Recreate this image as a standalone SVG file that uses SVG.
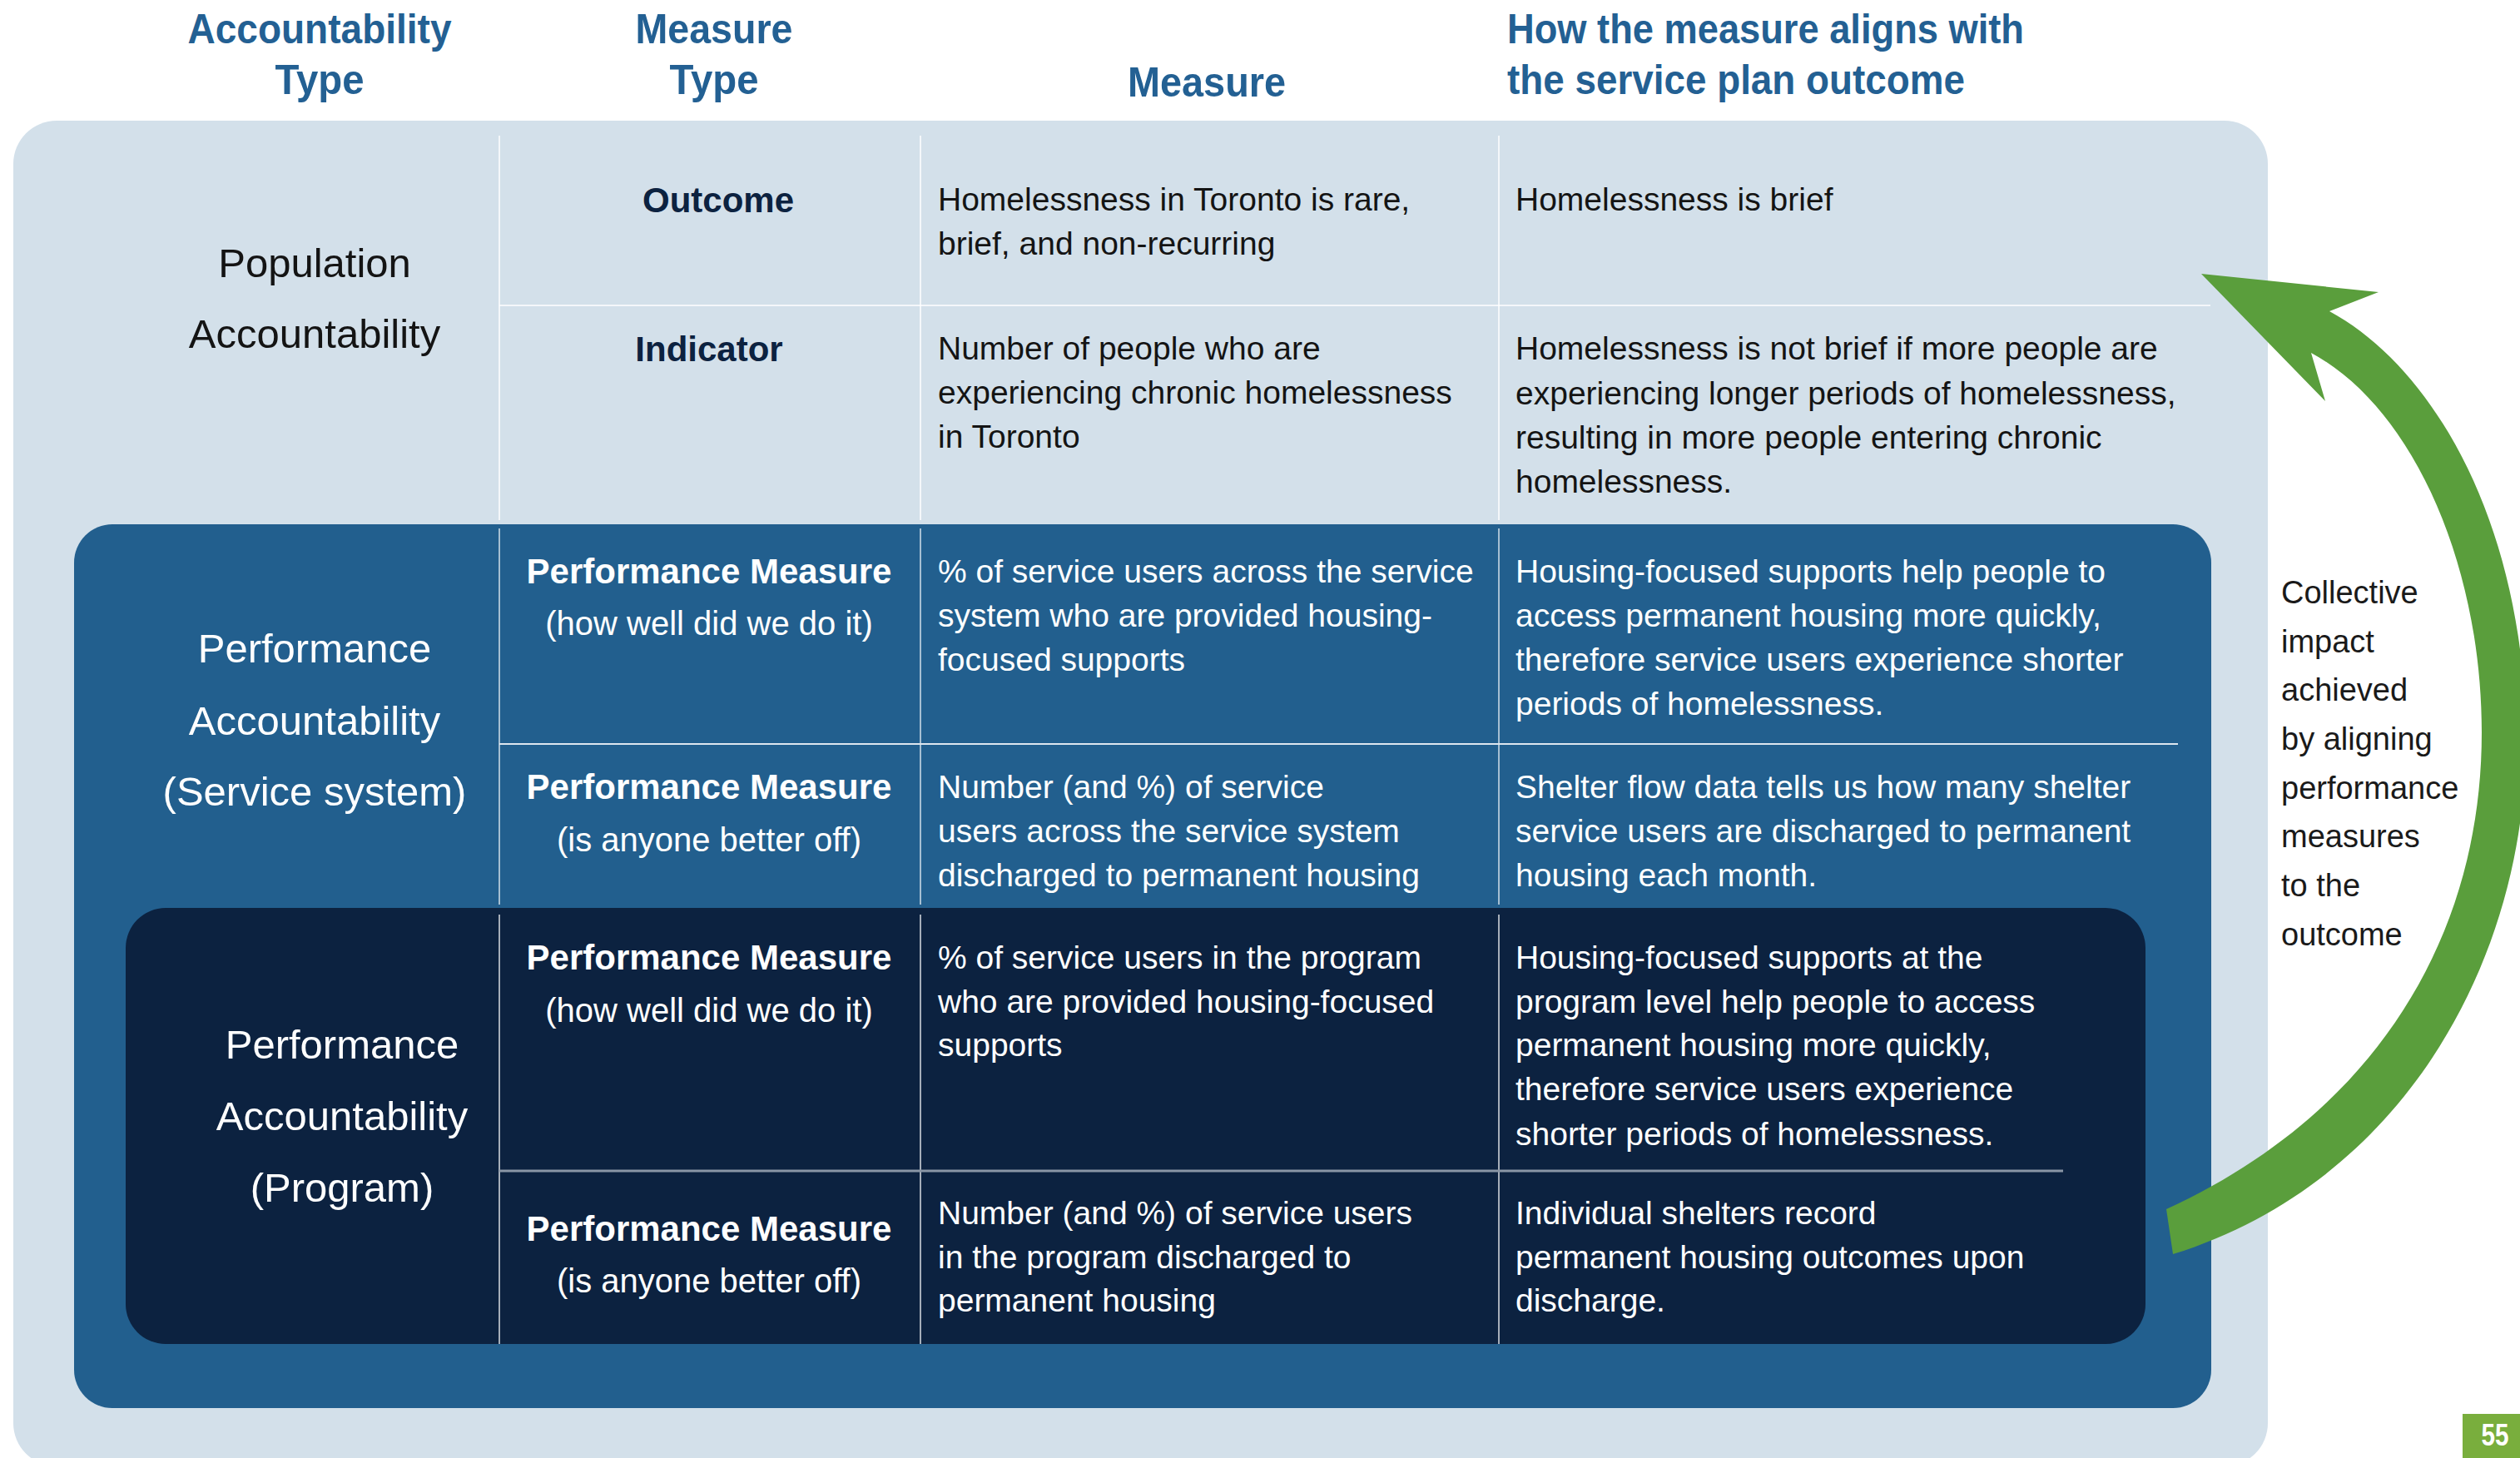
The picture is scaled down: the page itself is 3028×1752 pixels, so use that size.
<svg xmlns="http://www.w3.org/2000/svg" width="3028" height="1752" viewBox="0 0 3028 1752">
<style>
.hdr{font-family:"Liberation Sans",Arial,sans-serif;font-weight:bold;font-size:50px;fill:#236093}
.acc{font-family:"Liberation Sans",Arial,sans-serif;font-size:49px;text-anchor:middle}
.mt{font-family:"Liberation Sans",Arial,sans-serif;font-weight:bold;font-size:42px;text-anchor:middle}
.sub{font-family:"Liberation Sans",Arial,sans-serif;font-size:40px;text-anchor:middle}
.body{font-family:"Liberation Sans",Arial,sans-serif;font-size:39px}
.dk{fill:#141414}
.nv{fill:#0c2240}
.wh{fill:#ffffff}
.vl{stroke:#ffffff;stroke-width:1.5}
.coll{font-family:"Liberation Sans",Arial,sans-serif;font-size:38px;fill:#1a1a1a}
</style>
<rect width="3028" height="1752" fill="#ffffff"/>
<g id="headers">
<text class="hdr" x="384" y="52" text-anchor="middle" textLength="317" lengthAdjust="spacingAndGlyphs">Accountability</text>
<text class="hdr" x="384" y="113" text-anchor="middle" textLength="107" lengthAdjust="spacingAndGlyphs">Type</text>
<text class="hdr" x="858" y="52" text-anchor="middle" textLength="189" lengthAdjust="spacingAndGlyphs">Measure</text>
<text class="hdr" x="858" y="113" text-anchor="middle" textLength="107" lengthAdjust="spacingAndGlyphs">Type</text>
<text class="hdr" x="1450" y="116" text-anchor="middle" textLength="190" lengthAdjust="spacingAndGlyphs">Measure</text>
<text class="hdr" x="1811" y="52" textLength="621" lengthAdjust="spacingAndGlyphs">How the measure aligns with</text>
<text class="hdr" x="1811" y="113" textLength="550" lengthAdjust="spacingAndGlyphs">the service plan outcome</text>
</g>
<g id="population">
<rect x="16" y="145" width="2709" height="1617" rx="52" ry="52" fill="#d3e0ea"/>
<line class="vl" x1="600" y1="163" x2="600" y2="625"/>
<line class="vl" x1="1106" y1="163" x2="1106" y2="625"/>
<line class="vl" x1="1801" y1="163" x2="1801" y2="625"/>
<line class="vl" x1="600" y1="367" x2="2656" y2="367"/>
<text class="acc dk" x="378" y="333">Population</text>
<text class="acc dk" x="378" y="418">Accountability</text>
<text class="mt nv" x="863" y="255">Outcome</text>
<text class="mt nv" x="852" y="434">Indicator</text>
<text class="body dk" x="1127" y="253">Homelessness in Toronto is rare,</text>
<text class="body dk" x="1127" y="306">brief, and non-recurring</text>
<text class="body dk" x="1821" y="253">Homelessness is brief</text>
<text class="body dk" x="1127" y="432">Number of people who are</text>
<text class="body dk" x="1127" y="485">experiencing chronic homelessness</text>
<text class="body dk" x="1127" y="538">in Toronto</text>
<text class="body dk" x="1821" y="432">Homelessness is not brief if more people are</text>
<text class="body dk" x="1821" y="486">experiencing longer periods of homelessness,</text>
<text class="body dk" x="1821" y="539">resulting in more people entering chronic</text>
<text class="body dk" x="1821" y="592">homelessness.</text>
</g>
<g id="service-system">
<rect x="89" y="630" width="2568" height="1062" rx="46" ry="46" fill="#225f8e"/>
<line class="vl" x1="600" y1="635" x2="600" y2="1087" stroke-opacity="0.8"/>
<line class="vl" x1="1106" y1="635" x2="1106" y2="1087" stroke-opacity="0.8"/>
<line class="vl" x1="1801" y1="635" x2="1801" y2="1087" stroke-opacity="0.8"/>
<line x1="600" y1="894" x2="2617" y2="894" stroke="#dde6ee" stroke-width="2"/>
<text class="acc wh" x="378" y="796">Performance</text>
<text class="acc wh" x="378" y="883">Accountability</text>
<text class="acc wh" x="378" y="968">(Service system)</text>
<text class="mt wh" x="852" y="701">Performance Measure</text>
<text class="sub wh" x="852" y="763">(how well did we do it)</text>
<text class="mt wh" x="852" y="960">Performance Measure</text>
<text class="sub wh" x="852" y="1023">(is anyone better off)</text>
<text class="body wh" x="1127" y="700">% of service users across the service</text>
<text class="body wh" x="1127" y="753">system who are provided housing-</text>
<text class="body wh" x="1127" y="806">focused supports</text>
<text class="body wh" x="1821" y="700">Housing-focused supports help people to</text>
<text class="body wh" x="1821" y="753">access permanent housing more quickly,</text>
<text class="body wh" x="1821" y="806">therefore service users experience shorter</text>
<text class="body wh" x="1821" y="859">periods of homelessness.</text>
<text class="body wh" x="1127" y="959">Number (and %) of service</text>
<text class="body wh" x="1127" y="1012">users across the service system</text>
<text class="body wh" x="1127" y="1065">discharged to permanent housing</text>
<text class="body wh" x="1821" y="959">Shelter flow data tells us how many shelter</text>
<text class="body wh" x="1821" y="1012">service users are discharged to permanent</text>
<text class="body wh" x="1821" y="1065">housing each month.</text>
</g>
<g id="program">
<rect x="151" y="1091" width="2427" height="524" rx="48" ry="48" fill="#0c2240"/>
<line class="vl" x1="600" y1="1099" x2="600" y2="1615" stroke-opacity="0.85"/>
<line class="vl" x1="1106" y1="1099" x2="1106" y2="1615" stroke-opacity="0.85"/>
<line class="vl" x1="1801" y1="1099" x2="1801" y2="1615" stroke-opacity="0.85"/>
<line x1="600" y1="1407" x2="2479" y2="1407" stroke="#8a96a6" stroke-width="3"/>
<text class="acc wh" x="411" y="1272">Performance</text>
<text class="acc wh" x="411" y="1358">Accountability</text>
<text class="acc wh" x="411" y="1444">(Program)</text>
<text class="mt wh" x="852" y="1165">Performance Measure</text>
<text class="sub wh" x="852" y="1228">(how well did we do it)</text>
<text class="mt wh" x="852" y="1491">Performance Measure</text>
<text class="sub wh" x="852" y="1553">(is anyone better off)</text>
<text class="body wh" x="1127" y="1164">% of service users in the program</text>
<text class="body wh" x="1127" y="1217">who are provided housing-focused</text>
<text class="body wh" x="1127" y="1269">supports</text>
<text class="body wh" x="1821" y="1164">Housing-focused supports at the</text>
<text class="body wh" x="1821" y="1217">program level help people to access</text>
<text class="body wh" x="1821" y="1269">permanent housing more quickly,</text>
<text class="body wh" x="1821" y="1322">therefore service users experience</text>
<text class="body wh" x="1821" y="1376">shorter periods of homelessness.</text>
<text class="body wh" x="1127" y="1471">Number (and %) of service users</text>
<text class="body wh" x="1127" y="1524">in the program discharged to</text>
<text class="body wh" x="1127" y="1576">permanent housing</text>
<text class="body wh" x="1821" y="1471">Individual shelters record</text>
<text class="body wh" x="1821" y="1524">permanent housing outcomes upon</text>
<text class="body wh" x="1821" y="1576">discharge.</text>
</g>
<g id="connectors">
<path d="M 2645 329 L 2858 351 L 2799 374 C 2930 445 3035 640 3035 890 C 3035 1150 2890 1420 2611 1507 L 2603 1453 C 2850 1340 2982 1130 2982 880 C 2982 680 2900 490 2777 424 L 2794 482 Z" fill="#5a9e3c"/>
</g>
<g id="collective-label">
<text class="coll" x="2741" y="725">Collective</text>
<text class="coll" x="2741" y="784">impact</text>
<text class="coll" x="2741" y="842">achieved</text>
<text class="coll" x="2741" y="901">by aligning</text>
<text class="coll" x="2741" y="960">performance</text>
<text class="coll" x="2741" y="1018">measures</text>
<text class="coll" x="2741" y="1077">to the</text>
<text class="coll" x="2741" y="1136">outcome</text>
</g>
<g id="page-number">
<rect x="2959" y="1699" width="69" height="53" fill="#79ae3d"/>
<text x="2998" y="1737" text-anchor="middle" font-family="Liberation Sans, Arial, sans-serif" font-weight="bold" font-size="36" fill="#ffffff" textLength="33" lengthAdjust="spacingAndGlyphs">55</text>
</g>
</svg>
